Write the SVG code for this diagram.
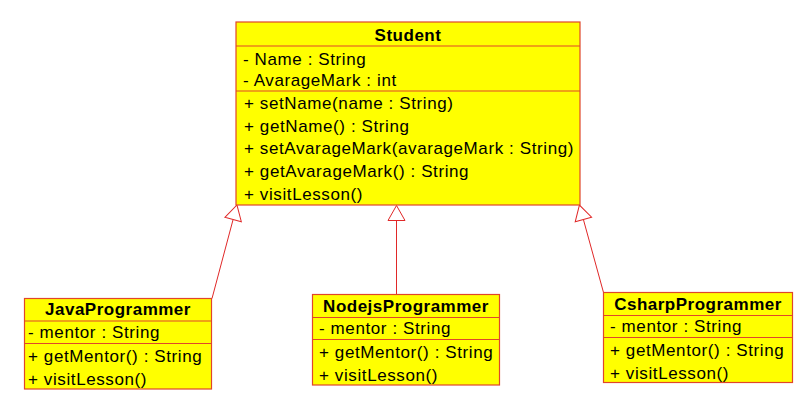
<svg xmlns="http://www.w3.org/2000/svg" width="808" height="415" viewBox="0 0 808 415">
<style>
.box{fill:#ffff00;stroke:#e0462a;stroke-width:1.2}
.sep{stroke:#e0462a;stroke-width:1.2}
text{font-family:"Liberation Sans",Arial,sans-serif;font-size:17px;letter-spacing:0.6px;fill:#000}
.t{font-weight:bold;text-anchor:middle;letter-spacing:0.5px}
.gen{stroke:#e02828;stroke-width:1;fill:none}
</style>
<defs>
<marker id="tri" markerUnits="userSpaceOnUse" viewBox="-1 -10 18 20" refX="0" refY="0" markerWidth="18" markerHeight="20" orient="auto">
<path d="M0,-8.5 L15,0 L0,8.5 Z" fill="#fff" stroke="#e02828" stroke-width="1"/>
</marker>
</defs>
<rect width="808" height="415" fill="#fff"/>
<g id="connectors">
<line class="gen" x1="212" y1="298.5" x2="233.1" y2="219.5" marker-end="url(#tri)"/>
<line class="gen" x1="396.5" y1="294.5" x2="396.5" y2="220.5" marker-end="url(#tri)"/>
<line class="gen" x1="603.5" y1="292.5" x2="583.4" y2="219.5" marker-end="url(#tri)"/>
</g>
<g id="Student">
<rect class="box" x="236" y="22" width="344" height="183"/>
<line class="sep" x1="236" y1="46" x2="580" y2="46"/>
<line class="sep" x1="236" y1="91" x2="580" y2="91"/>
<text class="t" x="408" y="41">Student</text>
<text x="243" y="65">- Name : String</text>
<text x="243" y="86">- AvarageMark : int</text>
<text x="244" y="109">+ setName(name : String)</text>
<text x="244" y="132">+ getName() : String</text>
<text x="244" y="154">+ setAvarageMark(avarageMark : String)</text>
<text x="244" y="177">+ getAvarageMark() : String</text>
<text x="244" y="200">+ visitLesson()</text>
</g>
<g id="JavaProgrammer">
<rect class="box" x="24.5" y="298.5" width="187" height="90.5"/>
<line class="sep" x1="24.5" y1="321" x2="211.5" y2="321"/>
<line class="sep" x1="24.5" y1="343.5" x2="211.5" y2="343.5"/>
<text class="t" x="118" y="315">JavaProgrammer</text>
<text x="28" y="338">- mentor : String</text>
<text x="28" y="361.5">+ getMentor() : String</text>
<text x="28" y="384.5">+ visitLesson()</text>
</g>
<g id="NodejsProgrammer">
<rect class="box" x="312.5" y="294.5" width="187" height="90.5"/>
<line class="sep" x1="312.5" y1="317.5" x2="499.5" y2="317.5"/>
<line class="sep" x1="312.5" y1="339.5" x2="499.5" y2="339.5"/>
<text class="t" x="406" y="311.5">NodejsProgrammer</text>
<text x="319" y="334">- mentor : String</text>
<text x="319" y="357.5">+ getMentor() : String</text>
<text x="319" y="380.5">+ visitLesson()</text>
</g>
<g id="CsharpProgrammer">
<rect class="box" x="603.5" y="292.5" width="189" height="90"/>
<line class="sep" x1="603.5" y1="315.5" x2="792.5" y2="315.5"/>
<line class="sep" x1="603.5" y1="337.5" x2="792.5" y2="337.5"/>
<text class="t" x="698" y="309.5">CsharpProgrammer</text>
<text x="610" y="332">- mentor : String</text>
<text x="610" y="355.5">+ getMentor() : String</text>
<text x="610" y="378.5">+ visitLesson()</text>
</g>
</svg>
